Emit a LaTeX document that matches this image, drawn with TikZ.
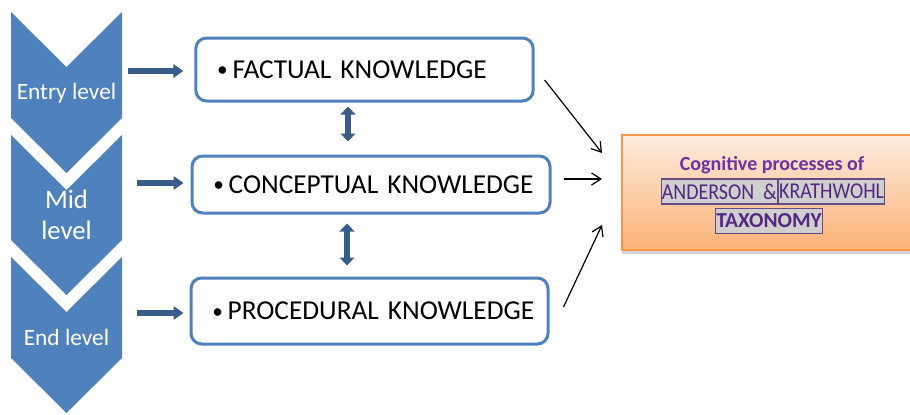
\documentclass[tikz,border=0pt]{standalone}
\usepackage{fontspec}
\setmainfont{Carlito}
\newfontfamily\narrowfont[FakeStretch=0.88]{Carlito}
\usetikzlibrary{arrows.meta,shadows}
\definecolor{kblue}{RGB}{79,129,189}
\definecolor{kdark}{RGB}{56,93,138}
\definecolor{korange}{RGB}{247,150,70}
\definecolor{kpurple}{RGB}{112,48,160}
\definecolor{kviolet}{RGB}{84,40,130}
\definecolor{kgray}{RGB}{208,206,206}
\newcommand{\kbullet}{\makebox[11.5pt][l]{\raisebox{1pt}{\fontsize{16}{16}\selectfont\textbullet}}}
\begin{document}
\begin{tikzpicture}[
    x=0.75pt, y=-0.75pt,
    level/.style={fill=kblue},
    leveltext/.style={text=white, align=center, font=\fontsize{17.5}{21}\selectfont},
    kbox/.style={draw=kblue, line width=2.25pt, rounded corners=8pt, fill=white,
      inner xsep=16pt, align=left, font=\fontsize{20.5}{24}\selectfont},
    feed/.style={draw=kdark, line width=5pt, -{Triangle[length=7.5pt,width=10pt]}},
    updown/.style={draw=kdark, line width=4pt,
      {Triangle[length=6pt,width=11pt]}-{Triangle[length=6pt,width=11pt]}},
    flow/.style={draw, line width=0.9pt, -{Straight Barb[length=7pt,width=9pt]}},
    mark box/.style={fill=kgray, draw=kviolet!60!gray, line width=0.8pt, inner xsep=0.5pt,
      inner ysep=0pt, minimum height=18.75pt, text=kviolet},
    ]
\useasboundingbox (0,0) rectangle (910,414);
% levels
\fill[level] (11,12) -- (66.5,67) -- (122,12) -- (122,118) -- (66.5,173) -- (11,118) -- cycle;
\fill[level] (11,135) -- (66.5,190) -- (122,135) -- (122,240) -- (66.5,295) -- (11,240) -- cycle;
\fill[level] (11,257) -- (66.5,312) -- (122,257) -- (122,358) -- (66.5,413) -- (11,358) -- cycle;
\node[leveltext] (entry) at (66.5,93) {Entry level};
\node[leveltext, font=\fontsize{20}{23}\selectfont] (mid) at (66.5,215) {Mid\\level};
\node[leveltext] (end) at (66.5,337) {End level};
% knowledge boxes
\node[kbox, text width=221pt, minimum height=47.25pt] (factual) at (364.5,69.5) {\mbox{\kbullet FACTUAL KNOWLEDGE}};
\node[kbox, text width=236.5pt, minimum height=42.75pt] (concept) at (371,184.5) {\mbox{\kbullet CONCEPTUAL KNOWLEDGE}};
\node[kbox, text width=235.75pt, minimum height=49.5pt] (proc) at (369.5,311) {\mbox{\kbullet PROCEDURAL KNOWLEDGE}};
% taxonomy box
\node[draw=korange, line width=1.5pt, top color={rgb,255:red,253;green,236;blue,222},
  bottom color={rgb,255:red,251;green,178;blue,118},
  minimum width=223.5pt, minimum height=86.25pt,
  drop shadow={shadow xshift=0pt, shadow yshift=-3pt, opacity=0.35}] (taxo) at (771,192.5) {};
\node[text=kpurple, font=\bfseries\fontsize{15}{18}\selectfont] (title) at (772,165) {Cognitive processes of};
\node[mark box, anchor=east, font=\narrowfont\fontsize{17}{18}\selectfont] (anderson) at (778,191.5) {ANDERSON\ \ \&};
\node[mark box, anchor=west, font=\narrowfont\fontsize{17}{18}\selectfont] (krath) at (778,191.5) {KRATHWOHL};
\node[mark box, font=\bfseries\fontsize{16}{18}\selectfont] (taxonomy) at (769,221) {TAXONOMY};
% arrows
\coordinate (s1) at (128,71);
\coordinate (s2) at (137,183);
\coordinate (s3) at (137,313);
\draw[feed, shorten >=8.25pt] (s1) -- (s1 -| factual.west);
\draw[feed, shorten >=5.25pt] (s2) -- (s2 -| concept.west);
\draw[feed, shorten >=4.5pt] (s3) -- (s3 -| proc.west);
\coordinate (d1) at (348,0);
\coordinate (d2) at (347,0);
\draw[updown, shorten <=3pt, shorten >=9.75pt] (factual.south -| d1) -- (concept.north -| d1);
\draw[updown, shorten <=6.75pt, shorten >=8.25pt] (concept.south -| d2) -- (proc.north -| d2);
\draw[flow] ([shift={(10,10.5)}]factual.east) -- ([shift={(-19,-39.5)}]taxo.west);
\draw[flow] ([shift={(12,-5.5)}]concept.east) -- ([shift={(-19,-13.5)}]taxo.west);
\draw[flow] ([shift={(14,-4)}]proc.east) -- ([shift={(-19,32.5)}]taxo.west);
\end{tikzpicture}
\end{document}
